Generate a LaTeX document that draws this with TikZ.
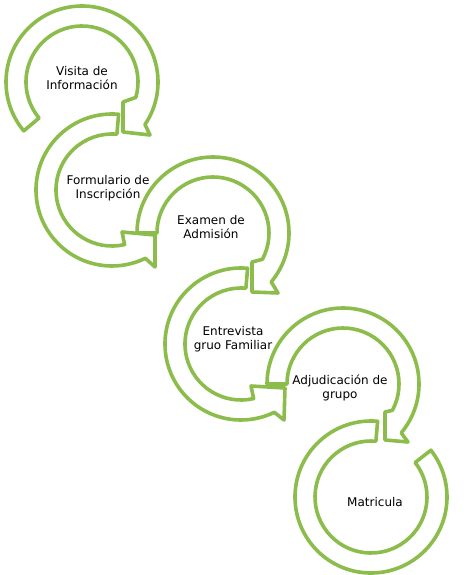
\documentclass[tikz,border=0pt]{standalone}
\usepackage{fontspec}
\setmainfont{DejaVu Sans}
\definecolor{ringgreen}{HTML}{8CBD4C}
\begin{document}
\begin{tikzpicture}[x=1pt,y=-1pt,
  ringband/.style={draw=ringgreen, line width=3.6pt, fill=white, line join=round},
  ringtext/.style={align=center, font=\fontsize{12}{14}\selectfont, text=black, inner sep=0pt}]
\useasboundingbox (0,0) rectangle (466,575);

% ring 1 (clockwise)
\begin{scope}[shift={(82,82)}]
\draw[ringband] (140:76) arc[start angle=140, end angle=394, radius=76]
  -- (68,53) -- (41,50) -- (41,20) -- (376:56)
  arc[start angle=376, end angle=140, radius=56] -- cycle;
\end{scope}

% ring 2 (counter-clockwise)
\begin{scope}[shift={(112,190)}]
\draw[ringband] (-85:76) arc[start angle=-85, end angle=-296, radius=76]
  -- (43,77) -- (43,45) -- (10,42) -- (-283:56)
  arc[start angle=-283, end angle=-85, radius=56] -- cycle;
\end{scope}

% ring 3 (clockwise)
\begin{scope}[shift={(213,233)}]
\draw[ringband] (180:76) arc[start angle=180, end angle=400, radius=76]
  -- (65,60) -- (39,59) -- (39,29) -- (388:56)
  arc[start angle=388, end angle=180, radius=56] -- cycle;
\end{scope}

% ring 4 (counter-clockwise)
\begin{scope}[shift={(241,344)}]
\draw[ringband] (-85:76) arc[start angle=-85, end angle=-296, radius=76]
  -- (43,76) -- (44,44) -- (10,42) -- (-283:56)
  arc[start angle=-283, end angle=-85, radius=56] -- cycle;
\end{scope}

% ring 5 (clockwise)
\begin{scope}[shift={(343,384)}]
\draw[ringband] (180:76) arc[start angle=180, end angle=400, radius=76]
  -- (65,58) -- (42,56) -- (42,28) -- (388:56)
  arc[start angle=388, end angle=180, radius=56] -- cycle;
\end{scope}

% ring 6 (counter-clockwise, no arrowhead)
\begin{scope}[shift={(371,497)}]
\draw[ringband] (-85:76) arc[start angle=-85, end angle=-398, radius=76]
  -- (-398:56) arc[start angle=-398, end angle=-85, radius=56] -- cycle;
\end{scope}

\node[ringtext] (t1) at (82,78) {Visita de\\Información};
\node[ringtext] (t2) at (108,188) {Formulario de\\Inscripción};
\node[ringtext] (t3) at (211,227) {Examen de\\Admisión};
\node[ringtext] (t4) at (233,339) {Entrevista\\gruo Familiar};
\node[ringtext] (t5) at (340,388) {Adjudicación de\\grupo};
\node[ringtext] (t6) at (375,502) {Matricula};
\end{tikzpicture}
\end{document}
